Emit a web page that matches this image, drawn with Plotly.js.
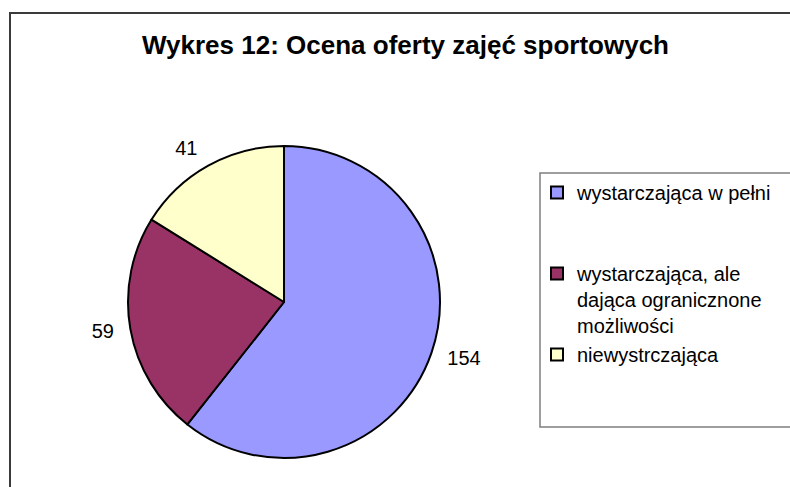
<!DOCTYPE html>
<html>
<head>
<meta charset="utf-8">
<script src="https://cdn.plot.ly/plotly-3.0.1.min.js"></script>
<style>
  html, body { margin: 0; padding: 0; background: #ffffff; }
  #chart { width: 790px; height: 487px; }
</style>
</head>
<body>
<div id="chart"></div>
<script>
// ---- data ----
var chartTitle = 'Wykres 12: Ocena oferty zajęć sportowych';
var categories = ['wystarczająca w pełni', 'wystarczająca, ale dająca ogranicznone możliwości', 'niewystrczająca'];
var values = [154, 59, 41];
var colors = ['#9999FF', '#993366', '#FFFFCC'];

// ---- legend text wrapping (presentation only) ----
function wrap(text, maxChars, minLines) {
  var words = text.split(' ');
  var lines = [];
  var cur = '';
  words.forEach(function (w) {
    if (cur === '') { cur = w; }
    else if ((cur + ' ' + w).length <= maxChars) { cur += ' ' + w; }
    else { lines.push(cur); cur = w; }
  });
  if (cur !== '') lines.push(cur);
  while (lines.length < minLines) lines.push(' ');
  return lines.join('<br>');
}
var legendLabels = categories.map(function (c) { return wrap(c, 21, 3); });

var W = 790, H = 487;
function px(x) { return x / W; }
function py(y) { return 1 - y / H; }

var FONT = 'Liberation Sans, Arial, sans-serif';
var cx = 284, cy = 302, r = 156, labelR = 167;

// the pie itself
var pie = {
  type: 'pie',
  labels: legendLabels,
  values: values,
  sort: false,
  direction: 'clockwise',
  rotation: 0,
  marker: { colors: colors, line: { color: '#000000', width: 2 } },
  textinfo: 'none',
  domain: { x: [px(cx - r), px(cx + r)], y: [py(cy + r), py(cy - r)] },
  hoverinfo: 'none'
};

// transparent copy, slightly larger, that carries the outside value labels
var labelPie = {
  type: 'pie',
  values: values,
  sort: false,
  direction: 'clockwise',
  rotation: 0,
  marker: { colors: values.map(function () { return 'rgba(0,0,0,0)'; }), line: { width: 0 } },
  textinfo: 'value',
  textposition: 'outside',
  outsidetextfont: { family: FONT, size: 20, color: '#000000' },
  domain: { x: [px(cx - labelR), px(cx + labelR)], y: [py(cy + labelR), py(cy - labelR)] },
  showlegend: false,
  hoverinfo: 'none'
};

var layout = {
  width: W,
  height: H,
  margin: { l: 0, r: 0, t: 0, b: 0 },
  paper_bgcolor: '#ffffff',
  plot_bgcolor: '#ffffff',
  font: { family: FONT, color: '#000000' },
  title: {
    text: chartTitle,
    font: { family: FONT, size: 26, weight: 'bold', color: '#000000' },
    x: 405.5 / W,
    xanchor: 'center',
    y: py(45),
    yanchor: 'middle'
  },
  showlegend: true,
  legend: {
    x: px(537),
    xanchor: 'left',
    y: py(173),
    yanchor: 'top',
    bgcolor: 'rgba(0,0,0,0)',
    borderwidth: 0,
    valign: 'top',
    font: { family: FONT, size: 20, color: '#000000' },
    traceorder: 'normal'
  },
  shapes: [
    { type: 'rect', xref: 'paper', yref: 'paper',
      x0: px(10), x1: 1.02, y0: -0.02, y1: py(13),
      line: { color: '#3a3a3a', width: 2 }, fillcolor: 'rgba(0,0,0,0)', layer: 'below' },
    { type: 'rect', xref: 'paper', yref: 'paper',
      x0: px(540), x1: 1.02, y0: py(427), y1: py(173),
      line: { color: '#7f7f7f', width: 1.5 }, fillcolor: 'rgba(0,0,0,0)', layer: 'below' }
  ]
};

Plotly.newPlot('chart', [pie, labelPie], layout, { displayModeBar: false, staticPlot: true });
</script>
</body>
</html>
